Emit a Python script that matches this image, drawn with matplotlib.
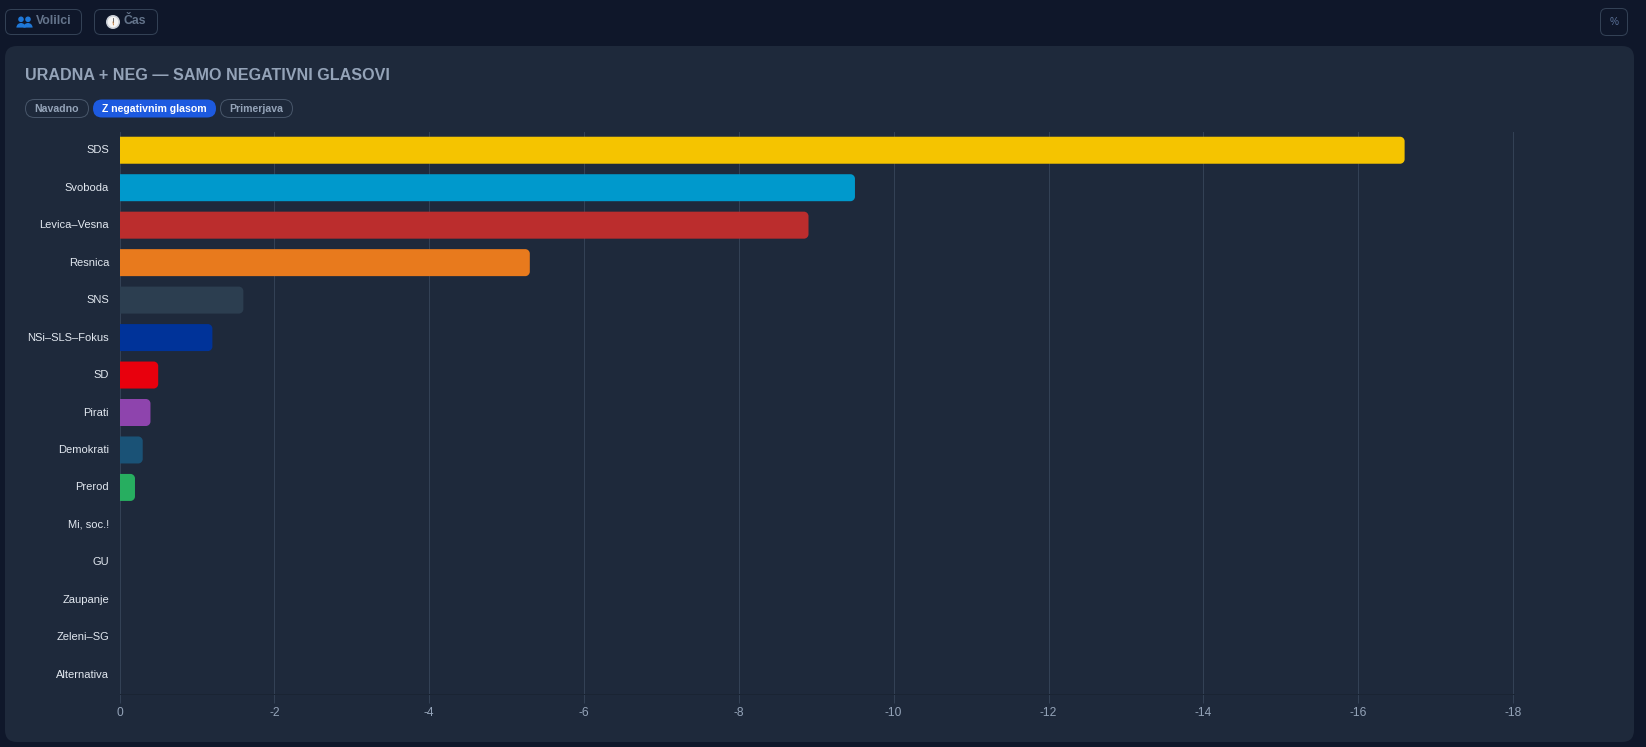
import matplotlib
matplotlib.use("Agg")
import matplotlib.pyplot as plt
from matplotlib.patches import FancyBboxPatch, PathPatch, Circle, Wedge
from matplotlib.path import Path

parties = ["SDS", "Svoboda", "Levica–Vesna", "Resnica", "SNS", "NSi–SLS–Fokus", "SD",
           "Pirati", "Demokrati", "Prerod", "Mi, soc.!", "GU", "Zaupanje", "Zeleni–SG", "Alternativa"]
negative_votes = [-16.6, -9.5, -8.9, -5.3, -1.6, -1.2, -0.5, -0.4, -0.3, -0.2, 0, 0, 0, 0, 0]
colors = ["#f5c400", "#0099cc", "#bb2d2d", "#e87a1d", "#2c3e50", "#003399", "#e8000d",
          "#8e44ad", "#1a5276", "#27ae60", "#888888", "#888888", "#888888", "#888888", "#888888"]
x_ticks = [0, -2, -4, -6, -8, -10, -12, -14, -16, -18]
title = "URADNA + NEG — SAMO NEGATIVNI GLASOVI"
tabs = ["Navadno", "Z negativnim glasom", "Primerjava"]

W, H = 1646, 747
PAGE, PANEL, GRID = "#0f172a", "#1e293b", "#334155"
FONT = "Liberation Sans"
px = 0.72  # points per pixel at 100 dpi

fig = plt.figure(figsize=(W / 100, H / 100), dpi=100, facecolor=PAGE)

# Page furniture lives on a full-figure overlay measured in pixels
ui = fig.add_axes([0, 0, 1, 1], zorder=0)
ui.set_xlim(0, W)
ui.set_ylim(H, 0)
ui.axis("off")


def box(x0, y0, x1, y1, r, fc, ec="none", lw=0.72):
    ui.add_patch(FancyBboxPatch((x0 + r, y0 + r), x1 - x0 - 2 * r, y1 - y0 - 2 * r,
                                boxstyle=f"round,pad={r},rounding_size={r}",
                                fc=fc, ec=ec, lw=lw))


box(5, 46, 1634, 742, 12, PANEL)

# Toolbar buttons
box(5.5, 9.5, 81.5, 34.5, 6, "none", GRID)
box(94.5, 9.5, 157.5, 34.5, 6, "none", GRID)
box(1600.5, 8.5, 1627.5, 35.5, 6, "none", GRID)
ui.text(35.5, 21.5, "Volilci", color="#64748b", fontsize=12.2 * px, fontweight="bold",
        family=FONT, va="center")
ui.text(124, 21.5, "Čas", color="#64748b", fontsize=12.2 * px, fontweight="bold",
        family=FONT, va="center")
ui.text(1614, 22, "%", color="#5b7299", fontsize=10 * px, family=FONT, ha="center", va="center")

# People icon
for cx in (21, 28):
    ui.add_patch(Circle((cx, 19.3), 2.8, fc="#1f78d8", ec="none"))
    ui.add_patch(Wedge((cx, 27.6), 4.6, 180, 360, fc="#1f78d8", ec="none"))

# Clock icon
ui.add_patch(Circle((113, 22), 7.0, fc="#c9ced6", ec="none"))
ui.add_patch(Circle((113, 22), 5.4, fc="#f4f4f4", ec="none"))
ui.plot([113, 113], [22, 18.4], color="#555555", lw=0.6)
ui.plot([113, 113.4], [22, 24.8], color="#c0702a", lw=0.6)

ui.text(25, 75, title, color="#94a3b8", fontsize=16.15 * px, fontweight="bold", family=FONT, va="center")

# Chart-type tabs
tab_spans = [(25.5, 88.5), (93, 216), (220.5, 292.5)]
for label, (x0, x1), active in zip(tabs, tab_spans, (False, True, False)):
    box(x0, 99.5, x1, 117.5, 9, "#1d5ae0" if active else "none", "none" if active else "#475569")
    ui.text((x0 + x1) / 2, 108.5, label, color="#ffffff" if active else "#94a3b8",
            fontsize=10.5 * px, fontweight="bold", family=FONT, ha="center", va="center")

# Horizontal bar chart, zero on the left and growing rightwards through negative values
AX_L, AX_R, AX_T, AX_B = 119.5, 1514.0, 131.5, 693.5
ax = fig.add_axes([AX_L / W, 1 - AX_B / H, (AX_R - AX_L) / W, (AX_B - AX_T) / H], zorder=1)
ax.patch.set_visible(False)
positions = list(range(len(parties)))
unit = (1513.0 - AX_L) / 18
ax.set_xlim(0, -(AX_R - AX_L) / unit)
ax.set_ylim(len(parties) - 0.5, -0.5)

bars = ax.barh(positions, negative_votes, height=27 / 37.47, color=colors, linewidth=0, zorder=3)

# Swap the square ends for ones rounded on the value side only
rx, ry = 4.5 / unit, 4.5 / 37.47
k = 0.45
for bar, value, color in zip(bars, negative_votes, colors):
    bar.set_visible(False)
    if value == 0:
        continue
    top, bottom = bar.get_y(), bar.get_y() + bar.get_height()
    tip = value
    r = min(rx, abs(value))
    verts = [(0, top), (tip + r, top),
             (tip + r * k, top), (tip, top + ry * k), (tip, top + ry),
             (tip, bottom - ry),
             (tip, bottom - ry * k), (tip + r * k, bottom), (tip + r, bottom),
             (0, bottom), (0, top)]
    codes = [Path.MOVETO, Path.LINETO, Path.CURVE4, Path.CURVE4, Path.CURVE4, Path.LINETO,
             Path.CURVE4, Path.CURVE4, Path.CURVE4, Path.LINETO, Path.CLOSEPOLY]
    ax.add_patch(PathPatch(Path(verts, codes), fc=color, ec="none", lw=0, zorder=3))

ax.set_xticks(x_ticks)
ax.set_xticklabels([str(t) for t in x_ticks], family=FONT, fontsize=12 * px, color="#94a3b8")
ax.set_yticks(positions)
ax.set_yticklabels(parties, family=FONT, fontsize=11.1 * px, color="#e2e8f0")
for label in ax.get_yticklabels():
    label.set_y(label.get_position()[1])
    label.set_verticalalignment("center")
ax.tick_params(axis="y", length=0, pad=10.5 * px)
ax.tick_params(axis="x", length=8.5 * px, width=0.72, color=GRID, pad=5 * px)
ax.grid(axis="x", color=GRID, lw=0.72, zorder=1)
ax.set_axisbelow(True)
for side in ("top", "right"):
    ax.spines[side].set_visible(False)
ax.spines["left"].set_color(GRID)
ax.spines["left"].set_linewidth(0.72)
ax.spines["bottom"].set_color("#1a2433")
ax.spines["bottom"].set_linewidth(0.72)

fig.savefig("out.png", dpi=100, facecolor=PAGE)
